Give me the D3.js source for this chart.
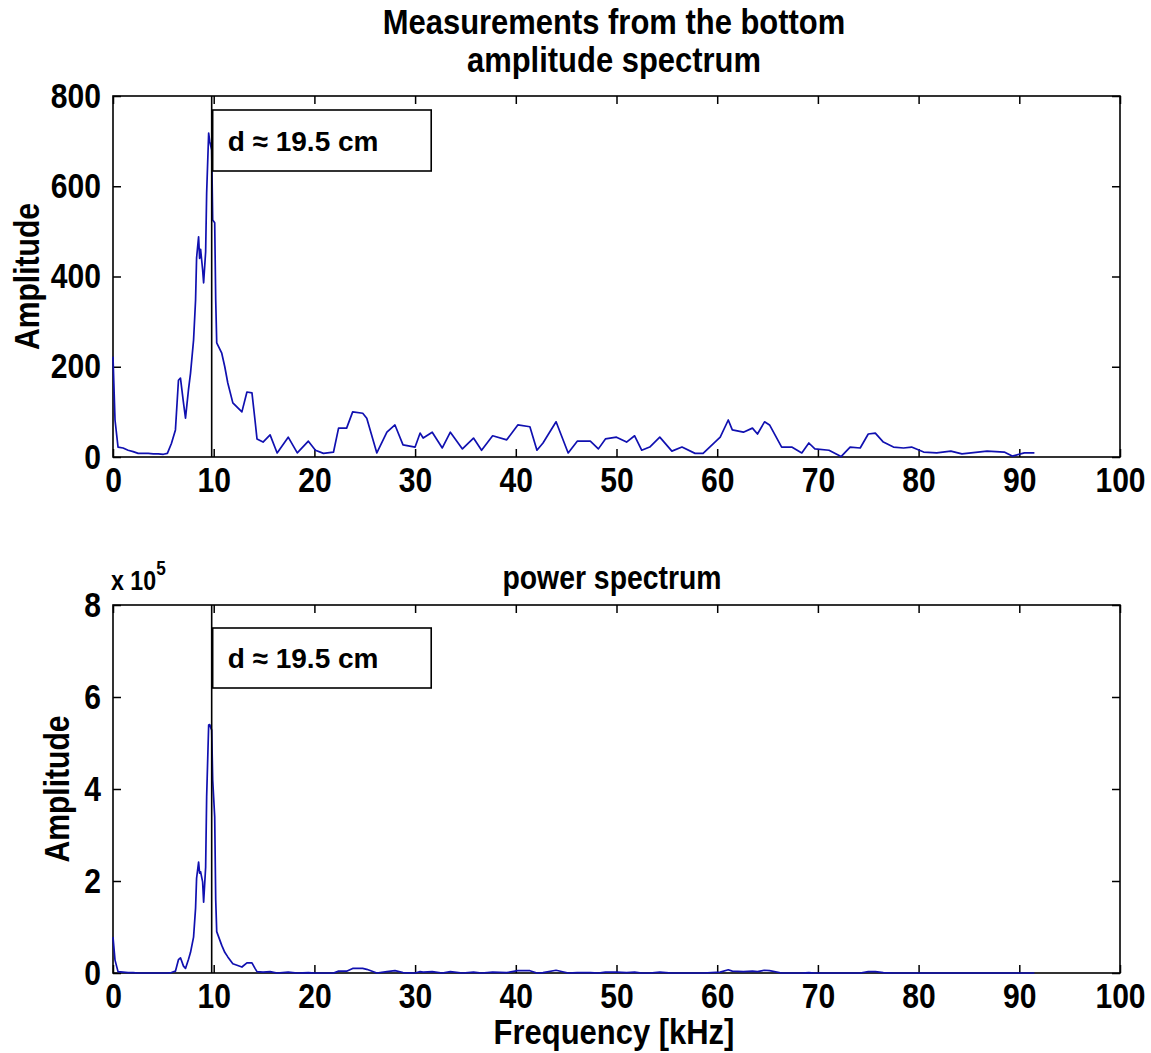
<!DOCTYPE html>
<html>
<head>
<meta charset="utf-8">
<script src="https://cdnjs.cloudflare.com/ajax/libs/d3/7.8.5/d3.min.js"></script>
<style>
  body { margin: 0; background: #fff; }
  svg { display: block; }
  .tick text { font-family: "Liberation Sans", Arial, sans-serif; font-weight: bold; }
</style>
</head>
<body>
<svg id="chart"></svg>
<script>
var width = 1151;
var height = 1053;

// frequency in kHz
var freqKHz = [0.0, 0.2, 0.5, 1.0, 1.5, 2.0, 2.5, 3.0, 3.5, 4.0, 4.5, 5.0, 5.4, 5.8, 6.2, 6.5, 6.7, 7.0, 7.2, 7.5,
  7.7, 8.0, 8.2, 8.3, 8.5, 8.6, 8.7, 8.9, 9.0, 9.2, 9.3, 9.5, 9.6, 9.8, 9.9, 10.1, 10.2, 10.3, 10.8, 11.1,
  11.4, 11.9, 12.8, 13.3, 13.8, 14.1, 14.3, 14.9, 15.6, 16.3, 17.4, 18.3, 19.4, 20.1, 20.9, 21.9, 22.4, 23.2, 23.8, 24.8,
  25.2, 26.2, 27.2, 28.0, 28.8, 30.0, 30.5, 30.8, 31.7, 32.7, 33.5, 34.7, 35.8, 36.6, 37.7, 39.1, 40.2, 41.4, 42.1, 42.7,
  44.0, 45.2, 46.1, 47.4, 48.2, 48.9, 50.0, 51.0, 51.8, 52.5, 53.3, 54.3, 55.5, 56.5, 57.8, 58.6, 60.3, 61.1, 61.5, 62.6,
  63.5, 64.0, 64.7, 65.2, 66.4, 67.4, 68.4, 69.1, 69.7, 71.1, 72.3, 73.2, 74.2, 75.0, 75.7, 76.5, 77.5, 78.5, 79.3, 80.5,
  81.8, 83.2, 84.3, 86.8, 88.5, 89.3, 90.5, 91.5];

// amplitude spectrum
var amplitude = [222, 82, 22, 20, 15, 12, 8, 8, 8, 7, 7, 6, 8, 30, 60, 170, 175, 120, 86, 150,
  186, 259, 348, 441, 488, 440, 460, 415, 386, 455, 585, 718, 700, 680, 525, 519, 348, 253, 230, 200,
  164, 120, 100, 144, 142, 82, 40, 33, 49, 9, 44, 9, 35, 15, 8, 11, 64, 64, 100, 97,
  86, 9, 55, 71, 27, 22, 53, 42, 55, 20, 55, 18, 42, 15, 47, 38, 71, 67, 15, 31,
  78, 9, 35, 35, 18, 40, 44, 33, 47, 15, 22, 44, 13, 22, 8, 8, 44, 82, 60, 55,
  64, 51, 78, 71, 22, 22, 9, 31, 18, 15, 1, 22, 20, 51, 53, 33, 22, 20, 22, 11,
  9, 13, 7, 13, 11, 2, 9, 9];

// power spectrum, in units of 1e5
var powerE5 = [0.78, 0.28, 0.03, 0.02, 0.01, 0.01, 0, 0, 0, 0, 0, 0, 0, 0.01, 0.04, 0.29, 0.33, 0.15, 0.10, 0.30,
  0.45, 0.78, 1.41, 2.06, 2.41, 2.17, 2.20, 1.98, 1.54, 2.30, 3.83, 5.39, 5.40, 5.28, 4.20, 3.39, 1.59, 0.90, 0.60, 0.45,
  0.35, 0.20, 0.13, 0.22, 0.22, 0.10, 0.03, 0.02, 0.03, 0, 0.02, 0, 0.01, 0, 0, 0, 0.04, 0.04, 0.10, 0.10,
  0.08, 0, 0.03, 0.05, 0.01, 0, 0.03, 0.02, 0.03, 0, 0.03, 0, 0.02, 0, 0.02, 0.01, 0.05, 0.05, 0, 0.01,
  0.06, 0, 0.01, 0.01, 0, 0.02, 0.02, 0.01, 0.02, 0, 0, 0.02, 0, 0, 0, 0, 0.02, 0.07, 0.04, 0.03,
  0.04, 0.03, 0.06, 0.05, 0, 0, 0, 0.01, 0, 0, 0, 0, 0, 0.03, 0.03, 0.01, 0, 0, 0, 0,
  0, 0, 0, 0, 0, 0, 0, 0];

var xTicks = [0, 10, 20, 30, 40, 50, 60, 70, 80, 90, 100];
var ampTicks = [0, 200, 400, 600, 800];
var powTicks = [0, 2, 4, 6, 8];

var peakFreq = 9.8;
var peakLabel = "d \u2248 19.5 cm";

var svg = d3.select("#chart")
  .attr("width", width)
  .attr("height", height);

var lineColor = "#1010b0";
var font = '"Liberation Sans", Arial, sans-serif';
// the reference uses a tall narrow bold face, so squeeze the text horizontally
var squeeze = "scale(0.86,1)";

function drawPanel(opt) {
  var x = d3.scaleLinear().domain([0, 100]).range([opt.left, opt.right]);
  var y = d3.scaleLinear().domain(opt.yDomain).range([opt.bottom, opt.top]);
  var g = svg.append("g");
  var tick = 8;

  // axes with inward ticks
  var bottomAxis = g.append("g")
    .attr("transform", "translate(0," + opt.bottom + ")")
    .call(d3.axisBottom(x).tickValues(xTicks).tickSize(-tick).tickPadding(10));
  bottomAxis.selectAll("text").style("font-size", "35px").attr("dy", "0.72em").attr("transform", squeeze);
  g.append("g")
    .attr("transform", "translate(0," + opt.top + ")")
    .call(d3.axisTop(x).tickValues(xTicks).tickSize(-tick).tickFormat(""));
  var leftAxis = g.append("g")
    .attr("transform", "translate(" + opt.left + ",0)")
    .call(d3.axisLeft(y).tickValues(opt.yTicks).tickSize(-tick).tickPadding(14));
  leftAxis.selectAll("text").style("font-size", "35px").attr("transform", squeeze);
  g.append("g")
    .attr("transform", "translate(" + opt.right + ",0)")
    .call(d3.axisRight(y).tickValues(opt.yTicks).tickSize(-tick).tickFormat(""));
  g.selectAll(".domain").remove();
  g.selectAll(".tick line").attr("stroke", "#000").attr("stroke-width", 1.5);

  g.append("rect")
    .attr("x", opt.left).attr("y", opt.top)
    .attr("width", opt.right - opt.left).attr("height", opt.bottom - opt.top)
    .attr("fill", "none").attr("stroke", "#000").attr("stroke-width", 1.6);

  // data line (drawn over the frame, as in the reference)
  var line = d3.line()
    .x(function(d, i) { return x(freqKHz[i]); })
    .y(function(d) { return y(d); });
  g.append("path")
    .datum(opt.values)
    .attr("fill", "none")
    .attr("stroke", lineColor)
    .attr("stroke-width", 1.7)
    .attr("stroke-linejoin", "round")
    .attr("d", line);

  // marker line at the peak
  g.append("line")
    .attr("x1", x(peakFreq)).attr("x2", x(peakFreq))
    .attr("y1", opt.top).attr("y2", opt.bottom)
    .attr("stroke", "#000").attr("stroke-width", 1.6);

  // annotation box
  var bx0 = x(peakFreq) + 1, bx1 = x(31.6);
  g.append("rect")
    .attr("x", bx0).attr("y", opt.boxTop)
    .attr("width", bx1 - bx0).attr("height", opt.boxH)
    .attr("fill", "#fff").attr("stroke", "#000").attr("stroke-width", 1.6);
  g.append("text")
    .attr("x", bx0 + 15).attr("y", opt.boxTop + opt.boxH / 2 + 10)
    .style("font-family", font).style("font-weight", "bold").style("font-size", "28px")
    .text(peakLabel);

  // y label
  g.append("text")
    .attr("transform", "translate(" + opt.yLabelX + "," + ((opt.top + opt.bottom) / 2) + ") rotate(-90) " + squeeze)
    .attr("text-anchor", "middle")
    .style("font-family", font).style("font-weight", "bold").style("font-size", "35px")
    .text("Amplitude");

  return { x: x, y: y };
}

drawPanel({
  left: 113, right: 1120, top: 96, bottom: 457,
  yDomain: [0, 800], yTicks: ampTicks, values: amplitude,
  boxTop: 110, boxH: 61, yLabelX: 39
});

drawPanel({
  left: 113, right: 1120, top: 605, bottom: 973,
  yDomain: [0, 8], yTicks: powTicks, values: powerE5,
  boxTop: 628, boxH: 60, yLabelX: 69
});

function title(txt, cx, cy, size) {
  svg.append("text")
    .attr("transform", "translate(" + cx + "," + cy + ") " + squeeze)
    .attr("text-anchor", "middle")
    .style("font-family", font).style("font-weight", "bold").style("font-size", size + "px")
    .text(txt);
}

title("Measurements from the bottom", 614, 34, 36);
title("amplitude spectrum", 614, 72, 36);
title("power spectrum", 612, 589, 33);
title("Frequency [kHz]", 614, 1044, 36);

// exponent label
var ex = svg.append("text")
  .attr("transform", "translate(111,590) " + squeeze)
  .style("font-family", font).style("font-weight", "bold").style("font-size", "27px");
ex.append("tspan").text("x 10");
ex.append("tspan").attr("dy", -15).style("font-size", "20px").text("5");
</script>
</body>
</html>
